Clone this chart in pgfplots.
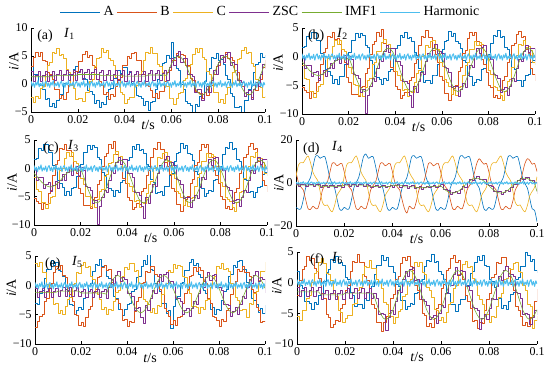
\documentclass[border=0pt]{standalone}
\usepackage{fontspec}
\setmainfont{Liberation Serif}
\usepackage{pgfplots}
\usepackage{pgfplotstable}
\pgfplotsset{compat=1.18}
\definecolor{cA}{rgb}{0,0.447,0.741}
\definecolor{cB}{rgb}{0.850,0.325,0.098}
\definecolor{cC}{rgb}{0.929,0.694,0.125}
\definecolor{cZ}{rgb}{0.494,0.184,0.556}
\definecolor{cM}{rgb}{0.466,0.674,0.188}
\definecolor{cH}{rgb}{0.301,0.745,0.933}

% panel (a): t A B C ZSC IMF1
\pgfplotstableread{
t A B C Z M
0.000 3.1 3.1 -2.3 2.2 1.3
0.001 1.7 4.8 -3.3 0.4 1.3
0.002 1.7 5.6 -2.2 1.6 1.3
0.003 -0.1 5.0 -2.5 2.2 1.3
0.004 -0.3 5.7 -0.8 0.4 1.3
0.005 -1.0 4.2 -0.5 1.6 1.3
0.006 -2.7 4.0 1.7 2.2 1.3
0.007 -2.5 2.1 3.4 0.4 1.3
0.008 -3.9 1.7 3.8 1.6 1.3
0.009 -3.4 0.8 5.7 2.2 1.3
0.010 -4.1 -1.0 5.4 0.6 1.5
0.011 -2.9 -1.0 6.3 1.8 1.5
0.012 -1.9 -2.5 5.2 2.4 1.5
0.013 -1.8 -2.0 5.3 0.6 1.5
0.014 0.1 -2.7 4.6 1.8 1.5
0.015 0.1 -1.4 2.6 2.4 1.5
0.016 1.7 -0.2 2.1 0.6 1.5
0.017 1.5 0.0 -0.3 1.8 1.5
0.018 2.7 2.1 -0.8 2.4 1.5
0.019 3.2 2.3 -2.7 0.6 1.5
0.020 2.2 4.0 -2.6 2.0 1.7
0.021 2.7 4.0 -2.5 2.6 1.7
0.022 1.0 5.3 -3.1 0.8 1.7
0.023 0.8 5.8 -1.5 2.0 1.7
0.024 -1.1 4.8 -1.5 2.6 1.7
0.025 -1.3 5.2 0.4 0.8 1.7
0.026 -1.9 3.3 0.9 2.0 1.7
0.027 -3.4 3.0 3.1 2.6 1.7
0.028 -2.9 0.9 4.6 0.8 1.7
0.029 -4.1 0.5 4.8 2.0 1.7
0.030 -3.2 -0.2 6.4 2.4 1.5
0.031 -3.7 -1.9 5.6 0.6 1.5
0.032 -2.2 -1.5 6.1 1.8 1.5
0.033 -1.0 -2.7 4.5 2.4 1.5
0.034 -0.8 -1.8 4.3 0.6 1.5
0.035 1.1 -2.2 3.4 1.8 1.5
0.036 1.0 -0.5 1.2 2.4 1.5
0.037 2.4 0.8 0.7 0.6 1.5
0.038 1.9 1.2 -1.5 1.8 1.5
0.039 2.9 3.3 -1.8 2.4 1.5
0.040 3.0 3.3 -3.4 0.5 1.4
0.041 1.8 4.9 -2.8 1.7 1.4
0.042 2.0 4.5 -2.3 2.3 1.4
0.043 0.1 5.5 -2.4 0.5 1.4
0.044 -0.2 5.6 -0.5 1.7 1.4
0.045 -2.1 4.3 -0.3 2.3 1.4
0.046 -2.2 4.3 1.8 0.5 1.4
0.047 -2.6 2.3 2.3 1.7 1.4
0.048 -3.8 1.8 4.3 2.3 1.4
0.049 -3.1 -0.3 5.6 0.5 1.4
0.050 -4.7 -0.5 5.5 1.9 1.6
0.051 -3.3 -1.1 6.6 2.5 1.6
0.052 -3.1 -2.4 5.4 0.7 1.6
0.053 -1.0 -1.7 5.4 1.9 1.6
0.054 0.8 -2.5 3.5 2.5 1.6
0.055 1.5 -1.3 3.1 0.7 1.6
0.056 3.7 -1.3 2.0 1.9 1.6
0.057 3.8 0.5 -0.2 2.5 1.6
0.058 5.2 2.0 -0.5 0.6 1.5
0.059 4.5 2.4 -2.5 2.9 2.6
0.060 7.4 4.3 -2.5 4.5 3.6
0.061 4.7 4.2 -3.6 3.4 4.3
0.062 2.8 5.4 -2.6 5.1 4.8
0.063 2.4 4.7 -1.6 5.9 5.0
0.064 -0.1 5.3 -1.4 3.9 4.8
0.065 -0.9 5.1 0.7 4.6 4.3
0.066 -3.1 3.4 1.1 4.5 3.6
0.067 -3.4 3.3 3.2 1.7 2.6
0.068 -3.8 1.1 3.5 1.8 1.5
0.069 -5.6 0.6 5.3 1.3 0.4
0.070 -3.7 -1.3 6.3 -1.5 -0.6
0.071 -4.0 -1.4 5.7 -1.0 -1.3
0.072 -2.2 -1.6 6.4 -0.9 -1.8
0.073 -1.8 -2.6 4.7 -2.9 -2.0
0.074 0.5 -1.5 4.4 -1.5 -1.8
0.075 2.3 -2.0 2.3 -0.4 -1.3
0.076 2.8 -0.4 1.7 -1.5 -0.6
0.077 4.8 -0.3 0.6 0.7 0.4
0.078 4.5 1.7 -1.4 2.4 1.5
0.079 5.4 3.2 -1.5 1.7 2.6
0.080 4.3 3.4 -3.2 3.9 3.6
0.081 4.4 5.2 -2.7 5.2 4.3
0.082 3.6 4.7 -3.4 3.9 4.8
0.083 1.5 5.6 -1.9 5.3 5.0
0.084 0.9 4.5 -0.6 5.7 4.8
0.085 -1.6 4.8 -0.2 3.4 4.3
0.086 -2.2 4.2 2.1 3.9 3.6
0.087 -4.2 2.4 2.5 3.5 2.6
0.088 -4.1 2.1 4.4 0.6 1.5
0.089 -4.0 -0.1 4.5 0.7 0.4
0.090 -5.1 -0.4 6.0 0.3 -0.6
0.091 -3.0 -2.2 6.5 -2.2 -1.3
0.092 -2.9 -1.9 5.5 -1.5 -1.8
0.093 -0.9 -1.8 5.7 -1.1 -2.0
0.094 -0.3 -2.4 3.7 -2.7 -1.8
0.095 2.0 -1.0 3.2 -1.0 -1.3
0.096 3.6 -1.1 0.9 0.3 -0.6
0.097 3.9 0.6 0.3 -0.5 0.4
0.098 5.5 0.9 -0.6 1.8 1.5
0.099 4.7 2.9 -2.4 3.5 2.6
0.100 5.2 4.2 -2.2 2.7 3.6
}\tabA

% panels (b) and (c)
\pgfplotstableread{
t A B C Z M
0.000 1.6 -5.3 -1.5 -0.2 -0.9
0.001 1.8 -5.8 -3.7 -2.1 -1.3
0.002 3.5 -6.2 -4.0 -1.6 -1.8
0.003 3.2 -7.3 -6.0 -1.6 -2.3
0.004 4.2 -6.1 -6.0 -3.5 -2.7
0.005 4.3 -6.4 -7.1 -2.8 -3.0
0.006 2.9 -4.4 -6.1 -2.5 -3.2
0.007 2.8 -3.8 -5.1 -4.1 -3.3
0.008 0.6 -1.3 -4.9 -3.0 -3.2
0.009 0.0 0.7 -2.8 -2.3 -3.0
0.010 -2.2 1.4 -2.4 -3.5 -2.7
0.011 -2.6 3.6 -0.3 -2.1 -2.3
0.012 -3.3 3.3 0.0 -1.1 -1.8
0.013 -4.7 4.3 1.8 -2.1 -1.3
0.014 -4.0 3.1 2.8 -0.7 -0.9
0.015 -4.8 3.2 2.2 0.1 -0.6
0.016 -3.5 2.2 2.9 -1.2 -0.4
0.017 -3.4 -0.1 1.2 -0.1 -0.3
0.018 -1.4 -0.9 0.9 0.3 -0.4
0.019 0.2 -3.6 -1.2 -1.4 -0.6
0.020 0.7 -4.4 -1.8 0.1 -0.1
0.021 2.8 -6.6 -2.9 -0.4 -1.1
0.022 2.8 -6.5 -4.9 -3.1 -2.3
0.023 4.1 -6.5 -5.0 -3.3 -3.5
0.024 3.4 -7.0 -6.7 -3.8 -4.5
0.025 4.0 -5.4 -6.2 -6.2 -5.4
0.026 3.7 -5.1 -6.9 -5.7 -5.9
0.027 1.9 -2.9 -5.4 -9.8 -6.1
0.028 1.6 -2.1 -4.1 -6.7 -5.9
0.029 -0.7 0.4 -3.7 -5.2 -5.4
0.030 -1.3 2.2 -1.4 -3.8 -4.5
0.031 -3.4 2.7 -1.0 -4.3 -3.5
0.032 -3.6 4.3 0.9 -2.1 -2.3
0.033 -3.9 3.6 1.0 -0.4 -1.1
0.034 -4.9 4.8 2.5 -0.9 -0.1
0.035 -3.8 2.4 3.0 1.0 0.8
0.036 -4.2 1.9 2.0 2.0 1.3
0.037 -2.5 0.7 2.2 0.7 1.5
0.038 -2.2 -1.8 0.2 1.5 1.3
0.039 -0.1 -2.6 -0.3 1.5 0.8
0.040 1.5 -5.1 -2.6 -0.9 -0.1
0.041 1.9 -5.7 -3.2 -0.9 -1.1
0.042 3.8 -7.3 -4.1 -1.6 -2.3
0.043 3.4 -6.8 -5.9 -4.3 -3.5
0.044 4.3 -6.2 -5.7 -4.3 -4.5
0.045 3.2 -6.3 -6.9 -4.7 -5.4
0.046 3.4 -4.1 -6.0 -6.7 -5.9
0.047 2.7 -3.6 -6.2 -8.9 -6.1
0.048 0.7 -1.2 -4.4 -5.2 -5.9
0.049 0.3 -0.4 -2.9 -6.2 -5.4
0.050 -2.0 1.9 -2.3 -4.3 -4.5
0.051 -2.5 3.5 0.0 -2.8 -3.5
0.052 -4.4 3.4 0.2 -3.1 -2.3
0.053 -4.2 4.6 1.9 -0.9 -1.1
0.054 -4.1 3.3 1.7 0.6 -0.1
0.055 -4.7 3.3 2.7 0.0 0.8
0.056 -3.2 1.1 2.8 1.5 1.3
0.057 -3.2 0.4 1.3 2.2 1.5
0.058 -1.3 -1.0 1.2 0.5 1.3
0.059 -0.9 -3.5 -1.0 1.0 0.8
0.060 1.2 -4.1 -1.7 0.6 -0.1
0.061 2.7 -6.4 -4.0 -1.9 -1.1
0.062 2.9 -6.4 -4.4 -2.1 -2.3
0.063 4.4 -7.6 -5.1 -2.8 -3.5
0.064 3.6 -6.5 -6.6 -5.3 -4.5
0.065 4.1 -5.5 -5.9 -5.2 -5.4
0.066 2.6 -5.0 -6.7 -5.2 -5.9
0.067 2.4 -2.6 -5.3 -6.9 -6.1
0.068 1.5 -1.9 -5.2 -5.7 -5.9
0.069 -0.6 0.5 -3.2 -4.7 -5.4
0.070 -1.0 1.1 -1.5 -5.3 -4.5
0.071 -3.2 3.2 -0.9 -3.3 -3.5
0.072 -3.5 4.2 1.2 -1.6 -2.3
0.073 -5.0 3.7 1.2 -1.9 -1.1
0.074 -4.4 4.3 2.6 0.1 -0.1
0.075 -3.9 2.6 1.9 1.5 0.8
0.076 -4.1 2.0 2.5 0.5 1.3
0.077 -2.2 -0.4 2.1 1.7 1.5
0.078 -2.0 -1.3 0.3 2.0 1.3
0.079 0.0 -2.7 0.0 0.0 0.8
0.080 0.4 -5.0 -2.4 0.1 -0.1
0.081 2.4 -5.4 -3.1 -0.4 -1.1
0.082 3.7 -7.1 -5.2 -3.1 -2.3
0.083 3.5 -6.7 -5.4 -3.3 -3.5
0.084 4.6 -7.3 -5.8 -3.8 -4.5
0.085 3.4 -5.8 -6.8 -6.2 -5.4
0.086 3.5 -4.2 -7.6 -5.7 -5.9
0.087 1.6 -3.5 -6.0 -5.4 -6.1
0.088 1.2 -0.9 -4.3 -6.7 -5.9
0.089 0.2 -0.2 -4.0 -5.2 -5.4
0.090 -1.9 2.0 -1.8 -3.8 -4.5
0.091 -2.2 2.4 -0.1 -4.3 -3.5
0.092 -4.2 3.9 0.3 -2.1 -2.3
0.093 -4.1 4.5 2.2 -0.4 -1.1
0.094 -5.2 3.4 1.9 -0.9 -0.1
0.095 -4.2 3.6 2.8 1.0 0.8
0.096 -3.3 1.3 1.7 2.0 1.3
0.097 -3.1 0.5 1.8 0.7 1.5
0.098 -1.0 -2.1 1.1 1.5 1.3
0.099 -0.7 -3.0 -0.9 1.5 0.8
0.100 1.3 -4.2 -1.4 -0.9 -0.1
}\tabB

% panel (d)
\pgfplotstableread{
t A B C Z M
0.000 -11.3 5.3 2.9 -0.4 -1.0
0.001 -12.1 0.4 8.3 -1.6 -1.0
0.002 -12.0 -1.8 9.5 -0.8 -1.0
0.003 -7.9 -3.2 9.4 -0.4 -1.0
0.004 -2.3 -7.7 11.2 -1.6 -1.0
0.005 0.3 -11.9 12.6 -0.8 -1.0
0.006 2.5 -12.3 9.5 -0.4 -1.0
0.007 7.3 -10.8 5.1 -1.6 -1.0
0.008 12.2 -11.7 2.9 -0.8 -1.0
0.009 12.7 -11.9 1.2 -0.4 -1.0
0.010 11.5 -8.3 -3.9 -2.1 -1.5
0.011 12.1 -3.2 -9.1 -1.3 -1.5
0.012 12.2 -1.2 -10.5 -0.9 -1.5
0.013 7.9 0.4 -10.2 -2.1 -1.5
0.014 2.5 4.7 -12.2 -1.3 -1.5
0.015 -0.3 9.1 -13.4 -0.9 -1.5
0.016 -2.3 9.3 -10.5 -2.1 -1.5
0.017 -7.3 8.0 -5.9 -1.3 -1.5
0.018 -12.0 8.7 -3.9 -0.9 -1.5
0.019 -12.7 9.1 -2.0 -2.1 -1.5
0.020 -11.3 5.3 2.9 -0.8 -1.0
0.021 -12.1 0.4 8.3 -0.4 -1.0
0.022 -12.0 -1.8 9.5 -1.6 -1.0
0.023 -7.9 -3.2 9.4 -0.8 -1.0
0.024 -2.3 -7.7 11.2 -0.4 -1.0
0.025 0.3 -11.9 12.6 -1.6 -1.0
0.026 2.5 -12.3 9.5 -0.8 -1.0
0.027 7.3 -10.8 5.1 -0.4 -1.0
0.028 12.2 -11.7 2.9 -1.6 -1.0
0.029 13.5 -11.9 1.2 -0.8 -1.0
0.030 11.5 -8.3 -3.9 -1.0 -1.6
0.031 12.1 -3.2 -9.1 -2.2 -1.6
0.032 12.2 -1.2 -10.5 -1.4 -1.6
0.033 7.9 0.4 -10.2 -1.0 -1.6
0.034 2.5 4.7 -12.2 -2.2 -1.6
0.035 -0.3 9.1 -13.4 -1.4 -1.6
0.036 -2.3 9.3 -10.5 -1.0 -1.6
0.037 -7.3 8.0 -5.9 -2.2 -1.6
0.038 -12.0 8.7 -3.9 -1.4 -1.6
0.039 -12.7 9.1 -2.0 -1.0 -1.6
0.040 -11.3 5.3 2.9 -1.8 -1.2
0.041 -12.1 0.4 8.3 -1.0 -1.2
0.042 -12.0 -1.8 9.5 -0.6 -1.2
0.043 -7.9 -3.2 9.4 -1.8 -1.2
0.044 -2.3 -7.7 11.2 -1.0 -1.2
0.045 0.3 -11.9 12.6 -1.2 -1.8
0.046 2.5 -14.0 9.5 -2.4 -1.8
0.047 7.3 -10.8 5.1 -1.6 -1.8
0.048 12.2 -11.7 2.9 -1.2 -1.8
0.049 12.7 -11.9 1.2 -2.4 -1.8
0.050 11.5 -8.3 -3.9 -2.0 -2.2
0.051 12.1 -3.2 -9.1 -1.6 -2.2
0.052 12.2 -1.2 -10.5 -2.8 -2.2
0.053 7.9 0.4 -10.2 -2.0 -2.2
0.054 2.5 4.7 -12.2 -1.6 -2.2
0.055 -0.3 9.1 -13.4 -2.2 -1.6
0.056 -2.3 9.3 -10.5 -1.4 -1.6
0.057 -7.3 8.0 -5.9 -1.0 -1.6
0.058 -12.0 8.7 -3.9 -2.2 -1.6
0.059 -12.7 9.1 -2.0 -1.4 -1.6
0.060 -11.3 5.3 2.9 -0.6 -1.2
0.061 -12.1 0.4 8.3 -2.9 -2.3
0.062 -12.0 -1.8 9.5 -3.1 -3.3
0.063 -7.9 -3.2 9.4 -3.4 -4.0
0.064 -2.3 -7.7 11.2 -5.1 -4.5
0.065 0.3 -11.9 12.6 -4.5 -4.7
0.066 2.5 -12.3 9.5 -3.9 -4.5
0.067 7.3 -10.8 5.1 -4.6 -4.0
0.068 12.2 -11.7 2.9 -3.1 -3.3
0.069 12.7 -11.9 1.2 -1.7 -2.3
0.070 11.5 -8.3 -3.9 -1.8 -1.2
0.071 12.1 -3.2 -9.1 0.1 -0.1
0.072 12.2 -1.2 -10.5 1.5 0.9
0.073 7.9 0.4 -10.2 1.0 1.6
0.074 2.5 4.7 -12.2 2.3 2.1
0.075 -0.3 9.1 -13.4 2.9 2.3
0.076 -2.3 11.3 -10.5 1.5 2.1
0.077 -7.3 10.0 -5.9 1.8 1.6
0.078 -12.0 8.7 -3.9 1.5 0.9
0.079 -12.7 9.1 -2.0 -0.7 -0.1
0.080 -11.3 5.3 2.9 -1.0 -1.2
0.081 -12.1 0.4 8.3 -1.7 -2.3
0.082 -12.0 -1.8 9.5 -3.9 -3.3
0.083 -7.9 -3.2 9.4 -3.8 -4.0
0.084 -2.3 -7.7 11.2 -3.9 -4.5
0.085 0.3 -11.9 12.6 -5.3 -4.7
0.086 2.5 -12.3 9.5 -4.3 -4.5
0.087 7.3 -10.8 5.1 -3.4 -4.0
0.088 12.2 -11.7 2.9 -3.9 -3.3
0.089 12.7 -11.9 1.2 -2.1 -2.3
0.090 11.5 -8.3 -3.9 -0.6 -1.2
0.091 12.1 -3.2 -9.1 -0.7 -0.1
0.092 12.2 -1.2 -10.5 1.1 0.9
0.093 7.9 0.4 -10.2 2.2 1.6
0.094 2.5 4.7 -12.2 1.5 2.1
0.095 -0.3 9.1 -13.4 2.5 2.3
0.096 -2.3 11.3 -10.5 2.7 2.1
0.097 -7.3 10.5 -5.9 1.0 1.6
0.098 -12.0 8.7 -3.9 1.1 0.9
0.099 -12.7 9.1 -2.0 0.5 -0.1
0.100 -18.0 5.3 2.9 -5.0 -4.0
}\tabD

% panel (e)
\pgfplotstableread{
t A B C Z M
0.000 -3.1 -7.2 3.8 -0.5 -1.2
0.001 -3.2 -6.2 3.2 -2.0 -1.2
0.002 -1.3 -5.2 3.9 -1.0 -1.2
0.003 -0.9 -4.9 2.3 -0.5 -1.2
0.004 1.2 -2.7 2.2 -2.0 -1.2
0.005 2.7 -2.2 0.1 -1.0 -1.2
0.006 2.8 0.0 -0.3 -0.5 -1.2
0.007 4.3 0.4 -1.2 -2.0 -1.2
0.008 3.5 2.3 -3.2 -1.0 -1.2
0.009 4.0 3.3 -3.1 -0.5 -1.2
0.010 2.5 2.7 -4.7 -1.8 -1.0
0.011 2.4 3.4 -4.2 -0.8 -1.0
0.012 1.5 1.7 -4.9 -0.3 -1.0
0.013 -0.6 1.3 -3.5 -1.8 -1.0
0.014 -1.0 -0.9 -2.4 -0.8 -1.0
0.015 -3.2 -1.6 -2.0 -0.3 -1.0
0.016 -3.4 -2.8 0.1 -1.8 -1.0
0.017 -4.9 -4.9 0.3 -0.8 -1.0
0.018 -4.3 -5.1 2.2 -0.3 -1.0
0.019 -3.8 -6.8 2.1 -1.8 -1.0
0.020 -4.0 -6.3 3.5 -1.1 -1.3
0.021 -2.2 -7.0 4.0 -0.6 -1.3
0.022 -2.0 -5.5 3.0 -2.1 -1.3
0.023 0.0 -4.1 3.3 -1.1 -1.3
0.024 0.4 -3.6 1.5 -0.6 -1.3
0.025 2.4 -1.2 1.0 -2.1 -1.3
0.026 3.6 -0.7 -1.1 -1.1 -1.3
0.027 3.4 1.3 -1.5 -0.6 -1.3
0.028 4.5 1.5 -2.4 -2.1 -1.3
0.029 3.3 3.0 -4.0 -1.1 -1.3
0.030 3.4 3.5 -3.7 -0.7 -1.4
0.031 1.6 2.5 -4.9 -2.3 -1.5
0.032 1.2 2.7 -4.0 -0.3 -0.5
0.033 0.2 0.6 -4.3 1.1 0.4
0.034 -1.9 0.0 -2.7 0.3 1.1
0.035 -2.2 -2.4 -1.2 1.7 1.5
0.036 -4.1 -3.1 -0.8 2.4 1.7
0.037 -4.0 -4.1 1.3 0.7 1.5
0.038 -5.1 -6.0 1.5 1.3 1.1
0.039 -4.1 -5.8 3.0 1.1 0.4
0.040 -3.2 -7.0 2.7 -1.3 -0.5
0.041 -3.1 -6.1 3.7 -1.3 -1.5
0.042 -1.0 -6.3 3.8 -1.8 -2.5
0.043 -0.7 -4.4 2.4 -4.2 -3.4
0.044 1.3 -2.8 2.5 -3.9 -4.1
0.045 1.6 -2.1 0.3 -3.8 -4.5
0.046 3.3 0.3 -0.2 -5.5 -4.7
0.047 4.2 0.6 -2.3 -6.5 -4.5
0.048 3.6 2.4 -2.7 -3.4 -4.1
0.049 5.4 2.2 -3.2 -4.2 -3.4
0.050 2.7 3.2 -4.6 -2.3 -2.5
0.051 2.5 3.3 -3.9 -0.8 -1.5
0.052 0.4 1.8 -4.7 -1.3 -0.5
0.053 -0.1 1.6 -3.4 0.6 0.4
0.054 -1.1 -0.7 -3.5 1.8 1.1
0.055 -3.1 -1.5 -1.5 0.7 1.5
0.056 -3.1 -3.9 0.0 1.9 1.7
0.057 -4.7 -4.4 0.4 2.2 1.5
0.058 -4.2 -5.2 2.5 0.3 1.1
0.059 -7.4 -6.7 2.3 0.6 0.4
0.060 -3.5 -6.0 3.6 0.2 -0.5
0.061 -2.3 -6.8 2.9 -2.3 -1.5
0.062 -1.9 -5.4 3.5 -2.3 -2.5
0.063 0.3 -5.2 3.2 -2.7 -3.4
0.064 0.6 -3.1 1.6 -4.9 -4.1
0.065 2.5 -1.3 1.3 -4.3 -4.5
0.066 2.5 -0.6 -0.9 -4.0 -4.7
0.067 3.9 1.6 -1.4 -5.3 -4.5
0.068 4.4 1.7 -3.5 -3.9 -4.1
0.069 3.4 3.1 -3.5 -2.7 -3.4
0.070 3.7 2.4 -3.8 -3.3 -2.5
0.071 1.8 3.0 -4.8 -1.3 -1.5
0.072 1.3 2.6 -3.7 0.2 -0.5
0.073 -0.9 0.7 -4.1 -0.4 0.4
0.074 -1.4 0.3 -2.6 1.3 1.1
0.075 -2.3 -2.2 -2.3 2.2 1.5
0.076 -4.0 -3.0 -0.3 0.9 1.7
0.077 -3.7 -5.2 1.2 1.7 1.5
0.078 -4.9 -5.5 1.6 1.8 1.1
0.079 -4.0 -5.9 3.3 -0.4 0.4
0.080 -4.3 -6.9 2.9 -0.3 -0.5
0.081 -2.6 -5.8 3.8 -0.8 -1.5
0.082 -1.1 -6.1 2.7 -3.3 -2.5
0.083 -0.6 -4.3 2.9 -3.2 -3.4
0.084 1.6 -3.9 2.4 -3.4 -4.1
0.085 1.8 -1.6 0.4 -5.3 -4.5
0.086 3.4 0.2 0.1 -4.5 -4.7
0.087 3.1 0.7 -2.1 -3.8 -4.5
0.088 4.1 2.7 -2.6 -4.9 -4.1
0.089 4.2 2.4 -4.3 -3.2 -3.4
0.090 2.8 3.3 -4.1 -1.8 -2.5
0.091 2.8 2.2 -4.0 -2.3 -1.5
0.092 0.6 2.3 -5.5 -0.3 -0.5
0.093 0.0 1.5 -3.1 1.1 0.4
0.094 -2.2 -0.6 -3.3 0.3 1.1
0.095 -2.6 -1.2 -1.4 1.7 1.5
0.096 -3.2 -3.7 -1.1 2.4 1.7
0.097 -4.6 -4.3 0.9 0.7 1.5
0.098 -3.9 -6.3 2.4 1.3 1.1
0.099 -4.7 -6.2 2.4 1.1 0.4
0.100 -3.4 -6.1 3.9 -1.3 -0.5
}\tabE

% panel (f)
\pgfplotstableread{
t A B C Z M
0.000 1.8 -2.1 -5.5 -0.8 -1.5
0.001 -0.4 0.4 -6.1 -2.3 -1.5
0.002 -0.9 2.2 -4.5 -1.3 -1.5
0.003 -3.0 2.7 -4.5 -0.8 -1.5
0.004 -3.0 4.3 -2.6 -2.3 -1.5
0.005 -3.3 3.6 -2.1 -1.3 -1.5
0.006 -4.3 4.0 0.1 -0.8 -1.5
0.007 -3.2 2.4 1.6 -2.3 -1.5
0.008 -3.6 1.9 1.8 -1.3 -1.5
0.009 -2.1 0.7 3.4 -0.8 -1.5
0.010 -1.8 -1.8 4.0 -2.8 -2.0
0.011 0.2 -2.6 3.1 -1.8 -2.0
0.012 1.7 -5.1 1.5 -1.3 -2.0
0.013 2.1 -5.7 1.3 -2.8 -2.0
0.014 3.8 -7.3 0.4 -1.8 -2.0
0.015 3.4 -6.8 -1.8 -1.3 -2.0
0.016 4.3 -6.2 -2.3 -2.8 -2.0
0.017 3.2 -6.3 -4.5 -1.8 -2.0
0.018 3.4 -4.1 -4.8 -1.3 -2.0
0.019 2.9 -3.6 -6.4 -2.8 -2.0
0.020 0.9 -1.2 -5.8 -1.5 -1.7
0.021 0.6 -0.4 -5.3 -1.0 -1.7
0.022 -1.6 1.9 -5.4 -2.5 -1.7
0.023 -2.1 3.5 -3.5 -1.5 -1.7
0.024 -3.8 3.4 -3.3 -1.0 -1.7
0.025 -3.6 4.6 -1.2 -2.5 -1.7
0.026 -3.5 3.3 -0.7 -1.5 -1.7
0.027 -4.1 3.3 1.3 -1.0 -1.7
0.028 -2.6 1.1 2.6 -2.5 -1.7
0.029 -2.8 0.4 2.5 -1.5 -1.7
0.030 -0.9 -1.0 3.6 -1.0 -1.7
0.031 -0.6 -3.5 2.4 -2.5 -1.7
0.032 1.4 -4.1 2.4 -1.8 -2.0
0.033 2.9 -6.4 0.5 -2.5 -3.2
0.034 2.9 -6.4 0.1 -5.2 -4.4
0.035 4.4 -8.0 -1.0 -5.0 -5.2
0.036 3.6 -6.5 -3.2 -5.1 -5.8
0.037 4.1 -5.5 -3.5 -7.8 -6.0
0.038 2.6 -5.0 -5.5 -5.6 -5.8
0.039 2.6 -2.6 -5.5 -4.5 -5.2
0.040 1.7 -1.9 -6.6 -5.2 -4.4
0.041 -0.3 0.5 -5.6 -3.0 -3.2
0.042 -0.6 1.1 -4.6 -1.3 -2.0
0.043 -2.8 3.2 -4.4 -1.6 -0.8
0.044 -2.9 4.2 -2.3 0.6 0.4
0.045 -4.4 3.7 -1.9 1.9 1.2
0.046 -3.8 4.3 0.2 1.0 1.8
0.047 -3.3 2.6 0.5 2.2 2.0
0.048 -3.5 2.0 2.3 2.5 1.8
0.049 -1.8 -0.4 3.3 0.4 1.2
0.050 -1.6 -1.3 2.7 0.6 0.4
0.051 0.3 -2.7 3.4 -0.1 -0.8
0.052 0.6 -5.0 1.7 -2.8 -2.0
0.053 2.6 -5.4 1.4 -3.0 -3.2
0.054 3.7 -7.1 -0.7 -3.7 -4.4
0.055 3.5 -6.7 -1.3 -6.0 -5.2
0.056 4.6 -7.3 -2.4 -5.6 -5.8
0.057 3.4 -5.8 -4.4 -5.3 -6.0
0.058 3.5 -4.2 -4.5 -6.6 -5.8
0.059 1.8 -3.5 -6.2 -5.0 -5.2
0.060 1.4 -0.9 -5.7 -3.7 -4.4
0.061 0.5 -0.2 -6.4 -4.0 -3.2
0.062 -1.5 2.0 -4.9 -1.8 -2.0
0.063 -1.8 2.4 -3.6 -0.1 -0.8
0.064 -3.6 3.9 -3.2 -0.4 0.4
0.065 -3.5 4.5 -0.9 1.4 1.2
0.066 -4.6 3.4 -0.5 2.5 1.8
0.067 -3.6 3.6 1.4 1.2 2.0
0.068 -2.7 1.3 1.5 2.0 1.8
0.069 -2.7 0.5 3.0 1.9 1.2
0.070 -0.6 -2.1 3.5 -0.4 0.4
0.071 -0.4 -3.0 2.5 -0.6 -0.8
0.072 1.5 -4.2 2.7 -1.3 -2.0
0.073 1.8 -6.3 0.7 -4.0 -3.2
0.074 3.4 -6.1 0.2 -4.2 -4.4
0.075 4.3 -7.4 -2.1 -4.5 -5.2
0.076 3.7 -6.4 -2.7 -7.6 -5.8
0.077 4.4 -6.6 -3.6 -5.8 -6.0
0.078 2.8 -4.5 -5.4 -5.1 -5.8
0.079 2.7 -2.7 -5.2 -6.0 -5.2
0.080 0.6 -1.8 -6.4 -4.2 -4.4
0.081 0.2 0.8 -5.5 -2.5 -3.2
0.082 -0.7 1.3 -5.7 -2.8 -2.0
0.083 -2.7 3.3 -3.9 -0.6 -0.8
0.084 -2.6 3.1 -2.4 1.1 0.4
0.085 -4.2 4.2 -1.8 0.4 1.2
0.086 -3.7 4.2 0.5 2.0 1.8
0.087 -4.4 2.7 0.7 2.7 2.0
0.088 -3.0 2.3 2.4 1.0 1.8
0.089 -1.9 -0.2 2.2 1.4 1.2
0.090 -1.5 -1.2 3.2 1.1 0.4
0.091 0.6 -3.8 3.3 -1.6 -0.8
0.092 0.8 -4.5 1.8 -1.8 -2.0
0.093 2.7 -5.5 1.7 -2.5 -3.2
0.094 2.6 -7.0 -0.5 -5.2 -4.4
0.095 4.9 -6.4 -1.2 -5.0 -5.2
0.096 4.5 -7.1 -3.5 -5.1 -5.8
0.097 3.5 -5.7 -3.9 -6.8 -6.0
0.098 3.8 -5.3 -7.5 -5.6 -5.8
0.099 2.0 -3.0 -6.1 -4.5 -5.2
0.100 1.5 -1.0 -5.4 -5.2 -4.4
}\tabF

% harmonic component (0.5 ms step)
\pgfplotstableread[row sep=\\]{
t H\\ 0 0.5\\ 0.0005 -0.4\\ 0.001 0.2\\ 0.0015 -0.6\\ 0.002 0.3\\ 0.0025 -0.2\\ 0.003 0.6\\ 0.0035 -0.5\\ 0.004 0.1\\ 0.0045 -0.3\\
0.005 0.4\\ 0.0055 -0.6\\ 0.006 0.2\\ 0.0065 0.5\\ 0.007 -0.4\\ 0.0075 0.2\\ 0.008 -0.6\\ 0.0085 0.3\\ 0.009 -0.2\\ 0.0095 0.6\\
0.010 -0.5\\ 0.0105 0.1\\ 0.011 -0.3\\ 0.0115 0.4\\ 0.012 -0.6\\ 0.0125 0.2\\ 0.013 0.5\\ 0.0135 -0.4\\ 0.014 0.2\\ 0.0145 -0.6\\
0.015 0.3\\ 0.0155 -0.2\\ 0.016 0.6\\ 0.0165 -0.5\\ 0.017 0.1\\ 0.0175 -0.3\\ 0.018 0.4\\ 0.0185 -0.6\\ 0.019 0.2\\ 0.0195 0.5\\
0.020 -0.4\\ 0.0205 0.2\\ 0.021 -0.6\\ 0.0215 0.3\\ 0.022 -0.2\\ 0.0225 0.6\\ 0.023 -0.5\\ 0.0235 0.1\\ 0.024 -0.3\\ 0.0245 0.4\\
0.025 -0.6\\ 0.0255 0.2\\ 0.026 0.5\\ 0.0265 -0.4\\ 0.027 0.2\\ 0.0275 -0.6\\ 0.028 0.3\\ 0.0285 -0.2\\ 0.029 0.6\\ 0.0295 -0.5\\
0.030 0.1\\ 0.0305 -0.3\\ 0.031 0.4\\ 0.0315 -0.6\\ 0.032 0.2\\ 0.0325 0.5\\ 0.033 -0.4\\ 0.0335 0.2\\ 0.034 -0.6\\ 0.0345 0.3\\
0.035 -0.2\\ 0.0355 0.6\\ 0.036 -0.5\\ 0.0365 0.1\\ 0.037 -0.3\\ 0.0375 0.4\\ 0.038 -0.6\\ 0.0385 0.2\\ 0.039 0.5\\ 0.0395 -0.4\\
0.040 0.2\\ 0.0405 -0.6\\ 0.041 0.3\\ 0.0415 -0.2\\ 0.042 0.6\\ 0.0425 -0.5\\ 0.043 0.1\\ 0.0435 -0.3\\ 0.044 0.4\\ 0.0445 -0.6\\
0.045 0.2\\ 0.0455 0.5\\ 0.046 -0.4\\ 0.0465 0.2\\ 0.047 -0.6\\ 0.0475 0.3\\ 0.048 -0.2\\ 0.0485 0.6\\ 0.049 -0.5\\ 0.0495 0.1\\
0.050 -0.3\\ 0.0505 0.4\\ 0.051 -0.6\\ 0.0515 0.2\\ 0.052 0.5\\ 0.0525 -0.4\\ 0.053 0.2\\ 0.0535 -0.6\\ 0.054 0.3\\ 0.0545 -0.2\\
0.055 0.6\\ 0.0555 -0.5\\ 0.056 0.1\\ 0.0565 -0.3\\ 0.057 0.4\\ 0.0575 -0.6\\ 0.058 0.2\\ 0.0585 0.5\\ 0.059 -0.4\\ 0.0595 0.2\\
0.060 -0.6\\ 0.0605 0.3\\ 0.061 -0.2\\ 0.0615 0.6\\ 0.062 -0.5\\ 0.0625 0.1\\ 0.063 -0.3\\ 0.0635 0.4\\ 0.064 -0.6\\ 0.0645 0.2\\
0.065 0.5\\ 0.0655 -0.4\\ 0.066 0.2\\ 0.0665 -0.6\\ 0.067 0.3\\ 0.0675 -0.2\\ 0.068 0.6\\ 0.0685 -0.5\\ 0.069 0.1\\ 0.0695 -0.3\\
0.070 0.4\\ 0.0705 -0.6\\ 0.071 0.2\\ 0.0715 0.5\\ 0.072 -0.4\\ 0.0725 0.2\\ 0.073 -0.6\\ 0.0735 0.3\\ 0.074 -0.2\\ 0.0745 0.6\\
0.075 -0.5\\ 0.0755 0.1\\ 0.076 -0.3\\ 0.0765 0.4\\ 0.077 -0.6\\ 0.0775 0.2\\ 0.078 0.5\\ 0.0785 -0.4\\ 0.079 0.2\\ 0.0795 -0.6\\
0.080 0.3\\ 0.0805 -0.2\\ 0.081 0.6\\ 0.0815 -0.5\\ 0.082 0.1\\ 0.0825 -0.3\\ 0.083 0.4\\ 0.0835 -0.6\\ 0.084 0.2\\ 0.0845 0.5\\
0.085 -0.4\\ 0.0855 0.2\\ 0.086 -0.6\\ 0.0865 0.3\\ 0.087 -0.2\\ 0.0875 0.6\\ 0.088 -0.5\\ 0.0885 0.1\\ 0.089 -0.3\\ 0.0895 0.4\\
0.090 -0.6\\ 0.0905 0.2\\ 0.091 0.5\\ 0.0915 -0.4\\ 0.092 0.2\\ 0.0925 -0.6\\ 0.093 0.3\\ 0.0935 -0.2\\ 0.094 0.6\\ 0.0945 -0.5\\
0.095 0.1\\ 0.0955 -0.3\\ 0.096 0.4\\ 0.0965 -0.6\\ 0.097 0.2\\ 0.0975 0.5\\ 0.098 -0.4\\ 0.0985 0.2\\ 0.099 -0.6\\ 0.0995 0.3\\
0.100 -0.2\\
}\tabH

\pgfplotsset{
  panel/.style={
    scale only axis, xmin=0, xmax=0.1,
    axis lines=left, axis line style={-, line width=0.6pt, black},
    tick align=inside, major tick length=3bp,
    every tick/.style={black, line width=0.5pt},
    xtick={0,0.02,0.04,0.06,0.08,0.1},
    xticklabels={\mbox{0},\mbox{0.02},\mbox{0.04},\mbox{0.06},\mbox{0.08},\mbox{0.1}},
    scaled x ticks=false, scaled y ticks=false,
    tick label style={font=\fontsize{12}{13}\selectfont, black},
    xlabel={\textit{t}/s}, ylabel={\textit{i}/A},
    label style={font=\fontsize{14}{15}\selectfont},
    xlabel style={at={(axis description cs:0.5,0)}, anchor=base, yshift=-18bp},
    clip=true,
  },
  stepped/.style={ytick={-10,-5,0,5}, yticklabels={\mbox{−10},\mbox{−5},\mbox{0},\mbox{5}}, ymin=-10, ymax=5},
  sA/.style={color=cA, line width=0.6pt, line join=round},
  sB/.style={color=cB, line width=0.6pt, line join=round},
  sC/.style={color=cC, line width=0.6pt, line join=round},
  sZ/.style={color=cZ, line width=0.7pt, line join=round},
  sM/.style={color=cM, line width=0.6pt, line join=round},
  sH/.style={color=cH, line width=1pt, line join=round},
}
\tikzset{plabel/.style={anchor=north west, inner sep=0pt, font=\fontsize{14}{15}\selectfont}}

\begin{document}
\begin{tikzpicture}
\useasboundingbox (0,0) rectangle (550bp,373bp);

% (a)
\begin{axis}[panel, at={(31bp,345bp)}, anchor=north west, width=234bp, height=84bp,
  ymin=-5, ymax=10, ytick={-5,0,5,10}, yticklabels={\mbox{−5},\mbox{0},\mbox{5},\mbox{10}},
  ylabel style={at={(axis description cs:-0.073,0.606)}, anchor=center},
  legend style={at={(1.026,1.19)}, anchor=center, draw=none, fill=none,
    legend columns=6, font=\fontsize{14}{15}\selectfont,
    nodes={inner xsep=3bp},
    /tikz/every even column/.append style={column sep=0bp}},
  legend image code/.code={\draw[#1, line width=0.8pt] (0bp,0bp) -- (40bp,0bp);},
  legend entries={A,B,C,ZSC,IMF1,Harmonic}]
\addplot[sA, const plot] table[x=t,y=A]{\tabA};
\addplot[sB, const plot] table[x=t,y=B]{\tabA};
\addplot[sC, const plot] table[x=t,y=C]{\tabA};
\addplot[sZ, const plot] table[x=t,y=Z]{\tabA};
\addplot[sM] table[x=t,y=M]{\tabA};
\addplot[sH] table[x=t,y=H]{\tabH};
\node[plabel] at (axis description cs:0.026,0.985) {(a)};
\node[plabel] at (axis description cs:0.141,1.0) {\textit{I}\textsubscript{1}};
\end{axis}

% (b)
\begin{axis}[panel, stepped, at={(302bp,345bp)}, anchor=north west, width=233bp, height=86bp,
  ylabel style={at={(axis description cs:-0.103,0.593)}, anchor=center}]
\addplot[sA, const plot] table[x=t,y=A]{\tabB};
\addplot[sB, const plot] table[x=t,y=B]{\tabB};
\addplot[sC, const plot] table[x=t,y=C]{\tabB};
\addplot[sZ, const plot] table[x=t,y=Z]{\tabB};
\addplot[sM] table[x=t,y=M]{\tabB};
\addplot[sH] table[x=t,y=H]{\tabH};
\node[plabel] at (axis description cs:0.025,0.985) {(b)};
\node[plabel] at (axis description cs:0.15,1.0) {\textit{I}\textsubscript{2}};
\end{axis}

% (c)
\begin{axis}[panel, stepped, at={(34bp,233bp)}, anchor=north west, width=233bp, height=85bp,
  ylabel style={at={(axis description cs:-0.094,0.5)}, anchor=center}]
\addplot[sA, const plot] table[x=t,y=A]{\tabB};
\addplot[sB, const plot] table[x=t,y=B]{\tabB};
\addplot[sC, const plot] table[x=t,y=C]{\tabB};
\addplot[sZ, const plot] table[x=t,y=Z]{\tabB};
\addplot[sM] table[x=t,y=M]{\tabB};
\addplot[sH] table[x=t,y=H]{\tabH};
\node[plabel] at (axis description cs:0.039,0.985) {(c)};
\node[plabel] at (axis description cs:0.146,1.0) {\textit{I}\textsubscript{3}};
\end{axis}

% (d)
\begin{axis}[panel, at={(296bp,233bp)}, anchor=north west, width=241bp, height=86bp,
  ymin=-20, ymax=20, ytick={-20,0,20}, yticklabels={\mbox{−20},\mbox{0},\mbox{20}},
  ylabel style={at={(axis description cs:-0.071,0.5)}, anchor=center}]
\addplot[sA, smooth] table[x=t,y=A]{\tabD};
\addplot[sB, smooth] table[x=t,y=B]{\tabD};
\addplot[sC, smooth] table[x=t,y=C]{\tabD};
\addplot[sZ, const plot] table[x=t,y=Z]{\tabD};
\addplot[sM] table[x=t,y=M]{\tabD};
\addplot[sH] table[x=t,y=H]{\tabH};
\node[plabel] at (axis description cs:0.029,0.97) {(d)};
\node[plabel] at (axis description cs:0.149,0.99) {\textit{I}\textsubscript{4}};
\end{axis}

% (e)
\begin{axis}[panel, stepped, at={(35bp,117bp)}, anchor=north west, width=230bp, height=88bp,
  ylabel style={at={(axis description cs:-0.103,0.636)}, anchor=center}]
\addplot[sA, const plot] table[x=t,y=A]{\tabE};
\addplot[sB, const plot] table[x=t,y=B]{\tabE};
\addplot[sC, const plot] table[x=t,y=C]{\tabE};
\addplot[sZ, const plot] table[x=t,y=Z]{\tabE};
\addplot[sM] table[x=t,y=M]{\tabE};
\addplot[sH] table[x=t,y=H]{\tabH};
\node[plabel] at (axis description cs:0.043,0.985) {(e)};
\node[plabel] at (axis description cs:0.16,1.0) {\textit{I}\textsubscript{5}};
\end{axis}

% (f)
\begin{axis}[panel, stepped, at={(297bp,121bp)}, anchor=north west, width=240bp, height=92bp,
  ylabel style={at={(axis description cs:-0.084,0.63)}, anchor=center}]
\addplot[sA, const plot] table[x=t,y=A]{\tabF};
\addplot[sB, const plot] table[x=t,y=B]{\tabF};
\addplot[sC, const plot] table[x=t,y=C]{\tabF};
\addplot[sZ, const plot] table[x=t,y=Z]{\tabF};
\addplot[sM] table[x=t,y=M]{\tabF};
\addplot[sH] table[x=t,y=H]{\tabH};
\node[plabel] at (axis description cs:0.054,0.985) {(f)};
\node[plabel] at (axis description cs:0.146,1.0) {\textit{I}\textsubscript{6}};
\end{axis}
\end{tikzpicture}
\end{document}
